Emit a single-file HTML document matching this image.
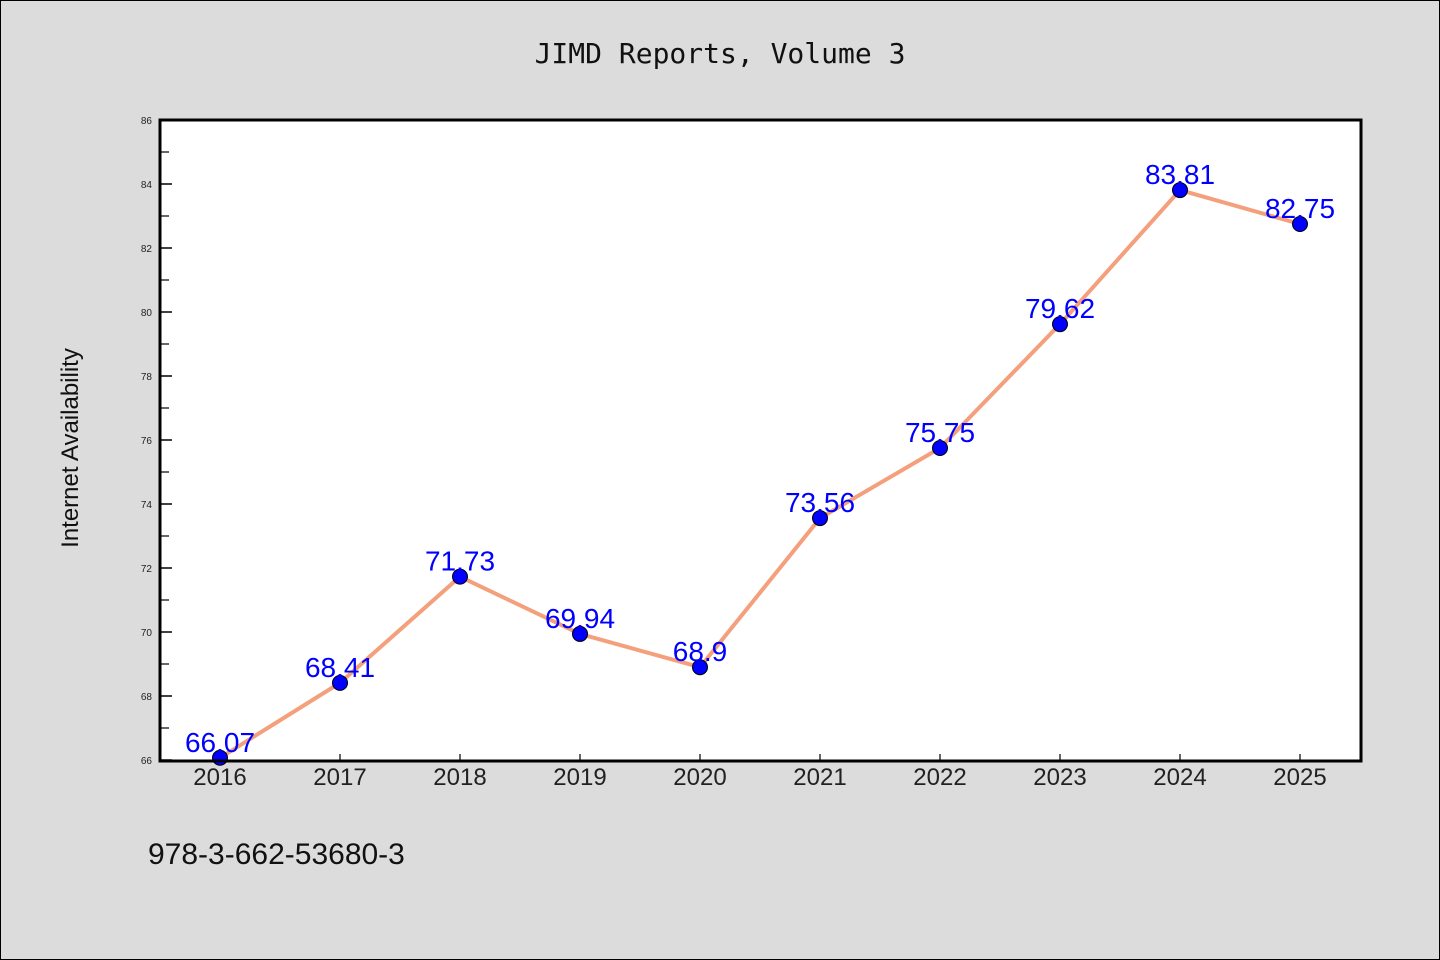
<!DOCTYPE html>
<html><head><meta charset="utf-8"><style>
html,body{margin:0;padding:0;background:#dcdcdc}
svg{display:block}
text{font-family:"WenQuanYi Zen Hei","Liberation Sans",sans-serif}
</style></head><body>
<svg id="chart" width="1440" height="960" xmlns="http://www.w3.org/2000/svg">
<rect x="0.5" y="0.5" width="1439" height="959" fill="#dcdcdc" stroke="#000"/>
<text x="720" y="63" text-anchor="middle" font-size="28" fill="#111" style="font-family:'DejaVu Sans Mono','Liberation Mono',monospace">JIMD Reports, Volume 3</text>
<rect x="160" y="120" width="1201" height="641" fill="#fff"/>
<g id="axes"></g>
<g id="marks"></g>
<rect x="160" y="120" width="1201" height="641" fill="none" stroke="#000" stroke-width="3"/>
<text x="78" y="448" text-anchor="middle" font-size="24" fill="#111" transform="rotate(-90 78 448)">Internet Availability</text>
<text x="148" y="864" font-size="30" fill="#111">978-3-662-53680-3</text>
</svg>
<script>
const categories=["2016","2017","2018","2019","2020","2021","2022","2023","2024","2025"];
const values=[66.07,68.41,71.73,69.94,68.9,73.56,75.75,79.62,83.81,82.75];
const valueLabels=["66.07","68.41","71.73","69.94","68.9","73.56","75.75","79.62","83.81","82.75"];
const yTicks=[66,68,70,72,74,76,78,80,82,84,86];
const NS="http://www.w3.org/2000/svg";
const x=i=>220+i*120;
const y=v=>760-(v-66)*32;
function mk(tag,attrs,parent){const e=document.createElementNS(NS,tag);for(const k in attrs)e.setAttribute(k,attrs[k]);parent.appendChild(e);return e;}
const axes=document.getElementById('axes'),marks=document.getElementById('marks');
yTicks.forEach(t=>{
  const l=mk('line',{x1:160,x2:172,y1:y(t),y2:y(t),stroke:'#000','stroke-width':1.5},axes);
  
  
  const tx=mk('text',{x:152,y:y(t)+4,'text-anchor':'end','font-size':10,fill:'#222'},axes);
  tx.textContent=t;
  
  
  if(t<86){const m=mk('line',{x1:160,x2:169,y1:y(t+1),y2:y(t+1),stroke:'#000','stroke-width':1.2},axes);
  
  }
});
categories.forEach((c,i)=>{
  const l=mk('line',{x1:x(i),x2:x(i),y1:761,y2:754,stroke:'#000','stroke-width':1.2},axes);
  
  
  const tx=mk('text',{x:x(i),y:785,'text-anchor':'middle','font-size':24,fill:'#222'},axes);
  tx.textContent=c;
  
  
});
const line=mk('polyline',{points:values.map((v,i)=>x(i)+','+y(v)).join(' '),fill:'none',stroke:'#f4a07c','stroke-width':4,'stroke-linejoin':'round'},marks);


values.forEach((v,i)=>{
  const c=mk('circle',{cx:x(i),cy:y(v),r:7.5,fill:'#0000ff',stroke:'#000','stroke-width':1},marks);
  
  
  const t=mk('text',{x:x(i),y:y(v)-6,'text-anchor':'middle','font-size':28,fill:'#0000ff'},marks);
  t.textContent=valueLabels[i];
  
  
});
</script>
</body></html>
